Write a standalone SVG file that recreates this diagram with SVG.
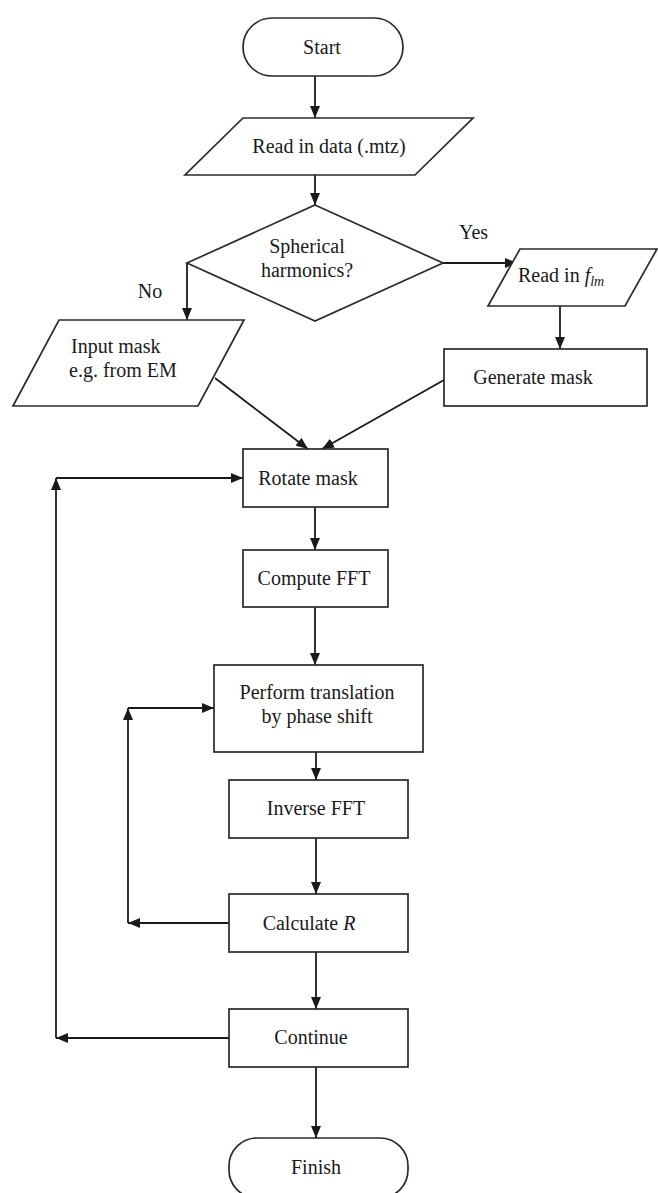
<svg xmlns="http://www.w3.org/2000/svg" width="658" height="1193" viewBox="0 0 658 1193">
<defs>
<marker id="ah" viewBox="0 0 12 10" refX="12" refY="5" markerWidth="12" markerHeight="10" markerUnits="userSpaceOnUse" orient="auto">
<path d="M0,0 L12,5 L0,10 Z" fill="#1a1a1a"/>
</marker>
<style>
.s{fill:#fff;stroke:#2a2a2a;stroke-width:1.7}
.c{fill:none;stroke:#1a1a1a;stroke-width:1.8;marker-end:url(#ah)}
text{font-family:"Liberation Serif","Times New Roman",serif;font-size:20px;fill:#1a1a1a}
.m{text-anchor:middle}
</style>
</defs>
<rect width="658" height="1193" fill="#fff"/>
<g id="connectors">
<line class="c" x1="315" y1="76" x2="315" y2="118"/>
<line class="c" x1="315" y1="175" x2="315" y2="205"/>
<line class="c" x1="187" y1="263" x2="187" y2="320"/>
<line class="c" x1="443" y1="263" x2="517" y2="263"/>
<line class="c" x1="560" y1="306" x2="560" y2="349"/>
<line class="c" x1="215" y1="378" x2="308" y2="449"/>
<line class="c" x1="444" y1="380" x2="322" y2="449"/>
<line class="c" x1="315" y1="507" x2="315" y2="550"/>
<line class="c" x1="315" y1="607" x2="315" y2="665"/>
<line class="c" x1="316" y1="752" x2="316" y2="780"/>
<line class="c" x1="316" y1="838" x2="316" y2="894"/>
<line class="c" x1="316" y1="952" x2="316" y2="1009"/>
<line class="c" x1="316" y1="1067" x2="316" y2="1138"/>
<line class="c" x1="229" y1="923" x2="128" y2="923"/>
<line class="c" x1="128" y1="923" x2="128" y2="708"/>
<line class="c" x1="128" y1="708" x2="214" y2="708"/>
<line class="c" x1="229" y1="1038" x2="56" y2="1038"/>
<line class="c" x1="56" y1="1038" x2="56" y2="478"/>
<line class="c" x1="56" y1="478" x2="243" y2="478"/>
<text x="150" y="298" class="m">No</text>
<text x="459" y="239">Yes</text>
</g>
<g id="start">
<rect class="s" x="243" y="18" width="160" height="58" rx="29" ry="29"/>
<text x="322" y="54" class="m">Start</text>
</g>
<g id="read-data">
<polygon class="s" points="243,118 473,118 415,175 185,175"/>
<text x="329" y="153" class="m">Read in data (.mtz)</text>
</g>
<g id="decision">
<polygon class="s" points="315,205 443,263 315,321 187,263"/>
<text x="307" y="253" class="m">Spherical</text>
<text x="307" y="277" class="m">harmonics?</text>
</g>
<g id="read-flm">
<polygon class="s" points="520,249 657,249 625,306 488,306"/>
<text x="518" y="282">Read in <tspan font-style="italic">f</tspan><tspan font-style="italic" font-size="14" dy="4">lm</tspan></text>
</g>
<g id="input-mask">
<polygon class="s" points="59,320 244,320 198,406 13,406"/>
<text x="71" y="353">Input mask</text>
<text x="69" y="377">e.g. from EM</text>
</g>
<g id="generate-mask">
<rect class="s" x="444" y="349" width="203" height="57"/>
<text x="533" y="384" class="m">Generate mask</text>
</g>
<g id="rotate-mask">
<rect class="s" x="243" y="449" width="145" height="58"/>
<text x="308" y="485" class="m">Rotate mask</text>
</g>
<g id="compute-fft">
<rect class="s" x="243" y="550" width="145" height="57"/>
<text x="314" y="585" class="m">Compute FFT</text>
</g>
<g id="perform-translation">
<rect class="s" x="214" y="665" width="209" height="87"/>
<text x="317" y="699" class="m">Perform translation</text>
<text x="317" y="723" class="m">by phase shift</text>
</g>
<g id="inverse-fft">
<rect class="s" x="229" y="780" width="179" height="58"/>
<text x="316" y="815" class="m">Inverse FFT</text>
</g>
<g id="calculate-r">
<rect class="s" x="229" y="894" width="179" height="58"/>
<text x="309" y="930" class="m">Calculate <tspan font-style="italic">R</tspan></text>
</g>
<g id="continue">
<rect class="s" x="229" y="1009" width="179" height="58"/>
<text x="311" y="1044" class="m">Continue</text>
</g>
<g id="finish">
<rect class="s" x="229" y="1138" width="179" height="60" rx="28" ry="28"/>
<text x="316" y="1174" class="m">Finish</text>
</g>
</svg>
